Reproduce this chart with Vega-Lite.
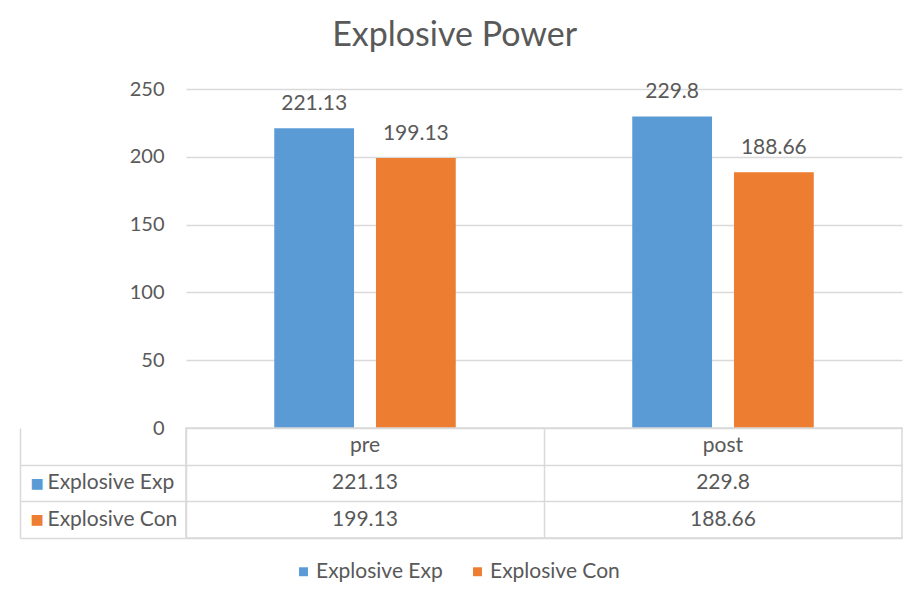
{
  "$schema": "https://vega.github.io/schema/vega-lite/v6.json",
  "background": "white",
  "padding": {"left": 18, "top": 19, "right": 2, "bottom": 5},
  "title": {"text": "Explosive Power", "fontSize": 34, "font": "Lato", "fontWeight": "normal", "color": "#595959", "anchor": "middle", "offset": 26, "dx": -6},
  "data": {"values": [
    {"period": "pre", "series": "Explosive Exp", "value": 221.13},
    {"period": "pre", "series": "Explosive Con", "value": 199.13},
    {"period": "post", "series": "Explosive Exp", "value": 229.8},
    {"period": "post", "series": "Explosive Con", "value": 188.66}
  ]},
  "bounds": "flush",
  "spacing": 0,
  "vconcat": [
    {
      "width": 716,
      "height": 339,
      "view": {"stroke": null},
      "encoding": {
        "x": {"field": "period", "type": "nominal", "sort": ["pre", "post"], "scale": {"paddingInner": 0, "paddingOuter": 0}, "axis": null},
        "xOffset": {"field": "series", "type": "nominal", "sort": ["Explosive Exp", "Explosive Con"], "scale": {"paddingInner": 0.2157, "paddingOuter": 0.8676}},
        "y": {"field": "value", "type": "quantitative", "scale": {"domain": [0, 250]},
          "axis": {"values": [0, 50, 100, 150, 200, 250], "title": null, "domain": false, "ticks": false, "labelPadding": 22, "labelFontSize": 20, "labelFont": "Lato", "labelColor": "#595959", "grid": true, "gridColor": "#d9d9d9", "gridWidth": 1.5}}
      },
      "layer": [
        {
          "mark": {"type": "bar"},
          "encoding": {
            "color": {"field": "series", "type": "nominal", "scale": {"domain": ["Explosive Exp", "Explosive Con"], "range": ["#5b9bd5", "#ed7d31"]},
              "legend": {"orient": "none", "legendX": 107, "legendY": 472, "direction": "horizontal", "title": null, "symbolType": "square", "symbolSize": 80, "symbolStrokeWidth": 0, "labelFontSize": 21, "labelFont": "Lato", "labelColor": "#595959", "columnPadding": 24, "labelOffset": 2}}
          }
        },
        {
          "mark": {"type": "text", "dy": -18, "baseline": "alphabetic", "fontSize": 21, "font": "Lato", "color": "#595959"},
          "encoding": {"text": {"field": "value", "type": "quantitative"}}
        }
      ]
    },
    {
      "width": 716,
      "height": 110,
      "view": {"stroke": "#d9d9d9", "strokeWidth": 1.5},
      "resolve": {"axis": {"y": "independent"}},
      "encoding": {
        "x": {"field": "period", "type": "nominal", "sort": ["pre", "post"], "scale": {"paddingInner": 0, "paddingOuter": 0},
          "axis": {"orient": "top", "tickBand": "extent", "values": ["pre"], "grid": true, "gridColor": "#d9d9d9", "gridWidth": 1.5, "labels": false, "ticks": false, "domain": false, "title": null}}
      },
      "layer": [
        {
          "mark": {"type": "text", "fontSize": 21, "font": "Lato", "color": "#595959"},
          "encoding": {
            "y": {"field": "series", "type": "nominal", "scale": {"domain": ["header", "Explosive Exp", "Explosive Con"], "paddingInner": 0, "paddingOuter": 0},
              "axis": {"orient": "left", "tickBand": "extent", "tickExtra": false, "values": ["Explosive Exp", "Explosive Con"], "grid": true, "gridColor": "#d9d9d9", "gridWidth": 1.5, "ticks": true, "tickSize": 166, "tickColor": "#d9d9d9", "tickWidth": 1.5, "domain": false, "title": null,
                "labelExpr": "datum.label ? '■' : ''",
                "labelColor": {"condition": {"test": "datum.value == 'Explosive Exp'", "value": "#5b9bd5"}, "value": "#ed7d31"},
                "labelAlign": "left", "labelBaseline": "middle", "labelPadding": -10, "labelFontSize": 14, "labelFont": "DejaVu Sans"}},
            "text": {"field": "value", "type": "quantitative"}
          }
        },
        {
          "transform": [{"filter": "datum.series == 'Explosive Exp'"}],
          "mark": {"type": "text", "fontSize": 21, "font": "Lato", "color": "#595959"},
          "encoding": {
            "y": {"datum": "header", "type": "nominal",
              "axis": {"orient": "left", "offset": 166, "values": ["Explosive Exp", "Explosive Con"], "grid": false, "ticks": false, "tickSize": 0, "domain": true, "domainColor": "#d9d9d9", "domainWidth": 1.5, "title": null,
                "labelAlign": "left", "labelBaseline": "middle", "labelPadding": -27, "labelFontSize": 21, "labelFont": "Lato", "labelColor": "#595959"}},
            "text": {"field": "period", "type": "nominal"}
          }
        }
      ]
    }
  ]
}
